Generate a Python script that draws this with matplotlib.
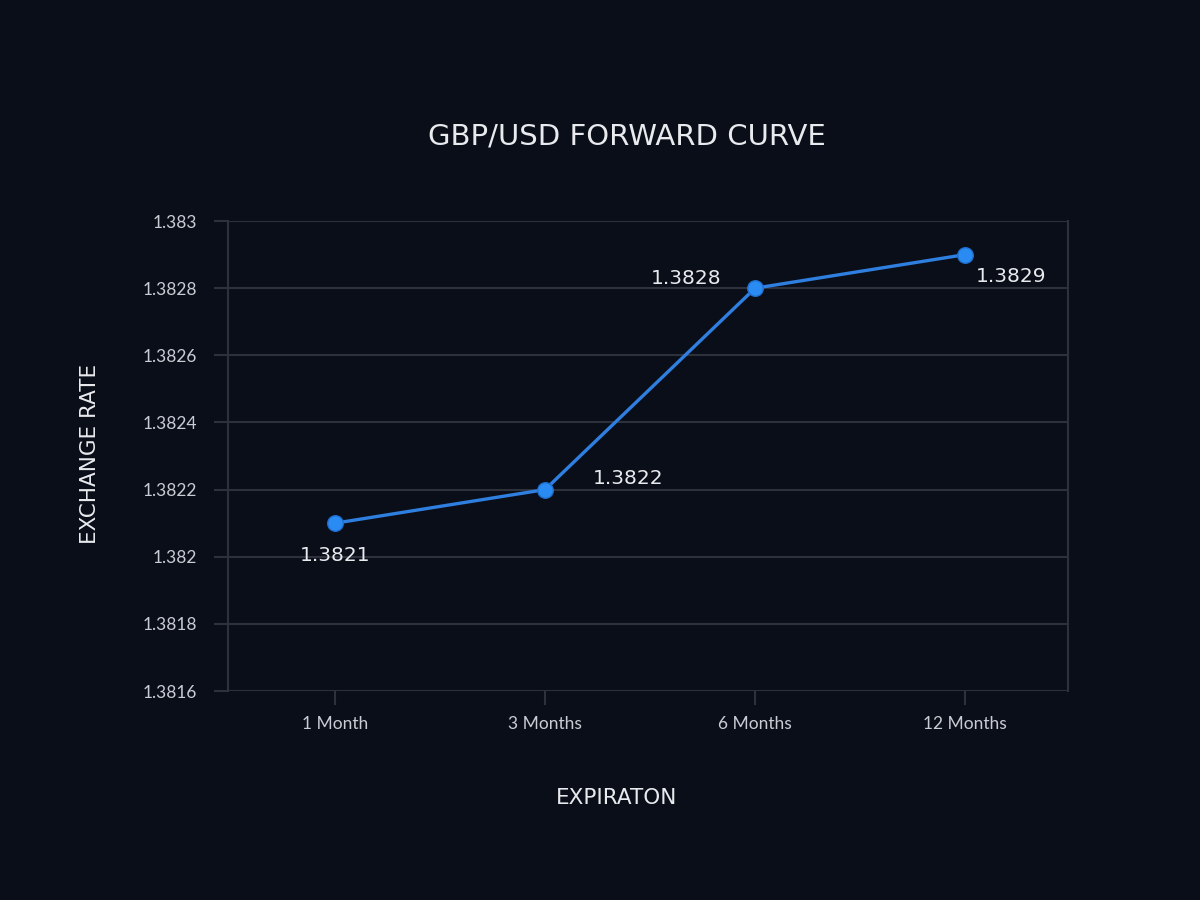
import matplotlib
matplotlib.use("Agg")
import matplotlib.pyplot as plt
from matplotlib.ticker import FuncFormatter

categories = ["1 Month", "3 Months", "6 Months", "12 Months"]
rates = [1.3821, 1.3822, 1.3828, 1.3829]
y_ticks = [1.3816, 1.3818, 1.3820, 1.3822, 1.3824, 1.3826, 1.3828, 1.3830]
title = "GBP/USD FORWARD CURVE"
x_label = "EXPIRATON"
y_label = "EXCHANGE RATE"

BG = "#0a0e18"
GRID = "#2c313c"
LINE = "#2f7fe0"
MARK = "#2a8cf2"
TXT = "#e8eaee"
TICK = "#c9ccd3"

fig = plt.figure(figsize=(12, 9), dpi=100, facecolor=BG)
ax = fig.add_axes([0.19, 0.2322, 0.70, 0.5222], facecolor=BG)

x = list(range(len(categories)))
ax.plot(x, rates, color=LINE, lw=2.4, zorder=3)
ax.scatter(x, rates, s=125, color=MARK, edgecolors="#1f6fd0", linewidths=1, zorder=4)

ax.set_xlim(-0.51, 3.49)
ax.set_ylim(1.3816, 1.3830)
ax.set_yticks(y_ticks)
ax.yaxis.set_major_formatter(FuncFormatter(lambda v, p: f"{v:.4f}".rstrip("0")))
ax.set_xticks(x)
ax.set_xticklabels(categories)

ax.grid(axis="y", color=GRID, lw=1.5)
ax.set_axisbelow(True)
for s in ["top", "bottom"]:
    ax.spines[s].set_visible(False)
for s in ["left", "right"]:
    ax.spines[s].set_color(GRID)
    ax.spines[s].set_linewidth(1.5)
ax.tick_params(axis="both", colors=GRID, length=10, width=1.5, labelcolor=TICK, labelsize=12.5)
ax.tick_params(axis="x", pad=8)
ax.tick_params(axis="y", pad=12)
for lab in ax.get_xticklabels() + ax.get_yticklabels():
    lab.set_family("Lato")

# value labels
offsets = [(0, -23), (60, 8), (-50, 7), (33, -16)]
for xi, yi, (dx, dy) in zip(x, rates, offsets):
    ax.annotate(f"{yi:.4f}", (xi, yi), xytext=(dx, dy), textcoords="offset points",
                ha="center", va="center", color=TXT, fontsize=14.5, family="DejaVu Sans")

fig.text(0.5225, 0.848, title, ha="center", va="center", color=TXT, fontsize=21, family="DejaVu Sans")
fig.text(0.5142, 0.113, x_label, ha="center", va="center", color=TXT, fontsize=15.5, family="DejaVu Sans")
fig.text(0.075, 0.496, y_label, ha="center", va="center", rotation=90, color=TXT, fontsize=15.5, family="DejaVu Sans")

fig.savefig("out.png", dpi=100, facecolor=BG)
